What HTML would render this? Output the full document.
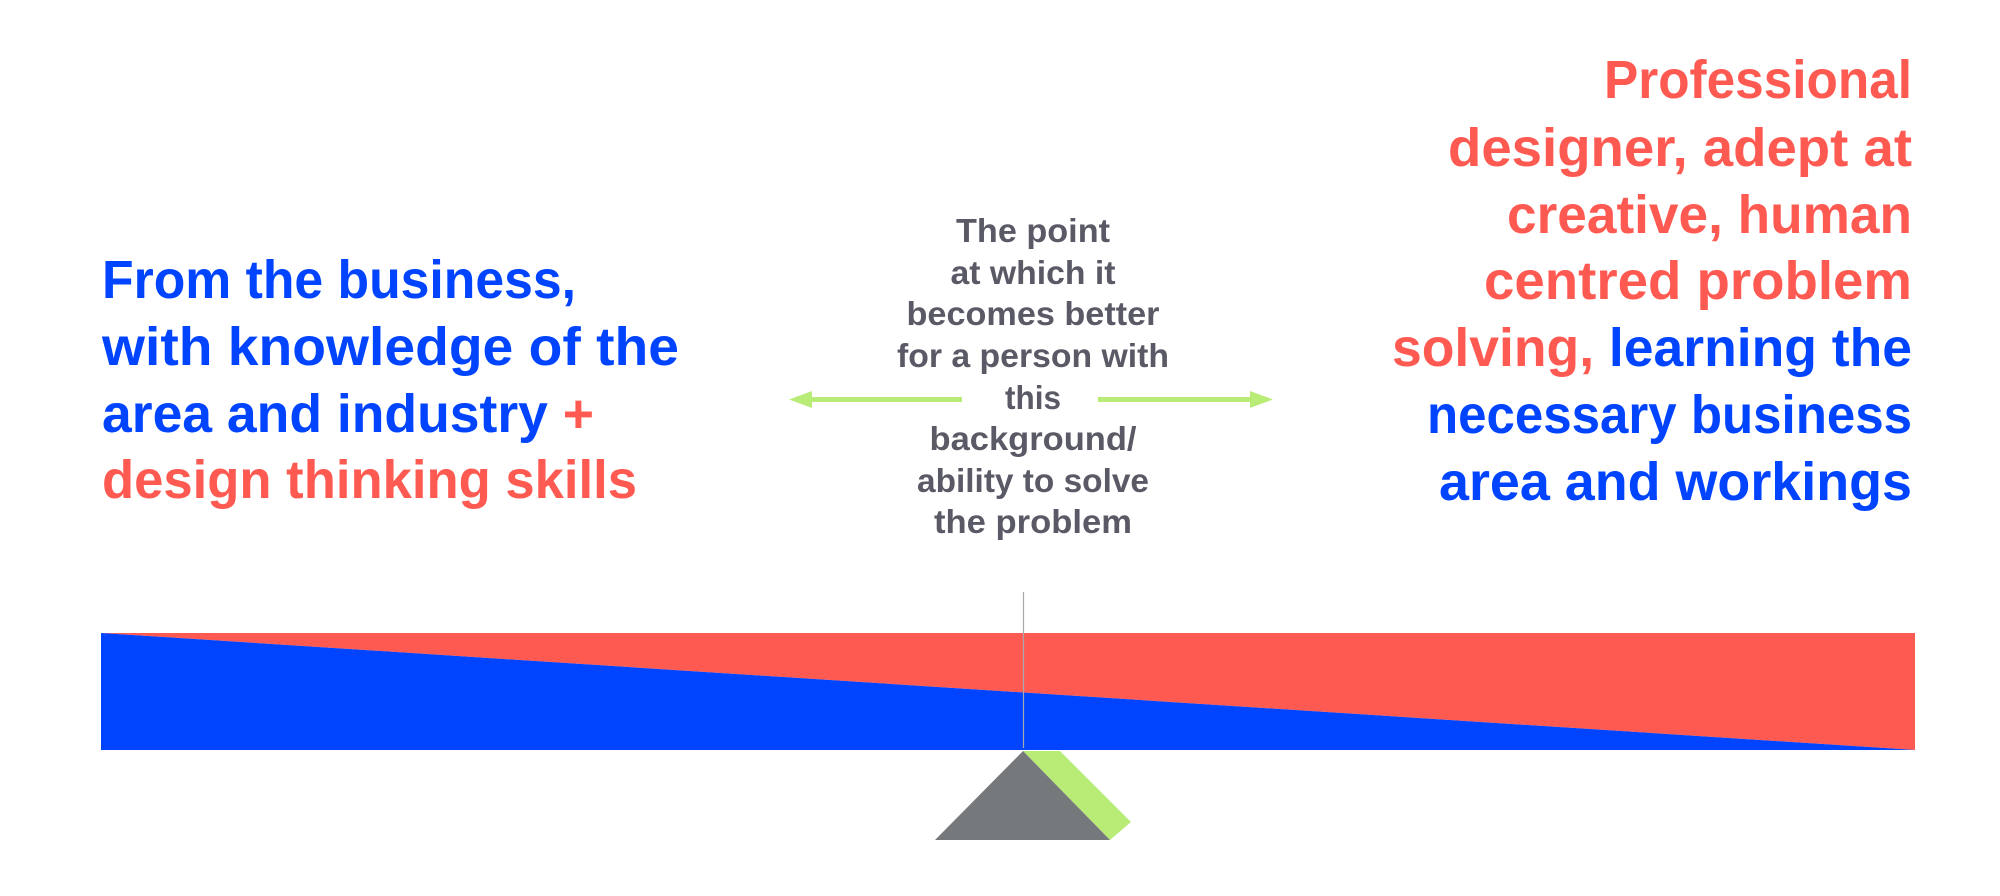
<!DOCTYPE html>
<html><head><meta charset="utf-8"><style>
html,body{margin:0;padding:0;background:#fff;}
svg{display:block;}
text{font-family:"Liberation Sans",sans-serif;font-weight:bold;}
</style></head><body>
<svg width="2000" height="896" viewBox="0 0 2000 896" xmlns="http://www.w3.org/2000/svg">
<rect width="2000" height="896" fill="#fff"/>
<g font-size="54" fill="#0044ff">
<text x="102" y="298" textLength="474" lengthAdjust="spacingAndGlyphs">From the business,</text>
<text x="102" y="365" textLength="577" lengthAdjust="spacingAndGlyphs">with knowledge of the</text>
<text x="102" y="432" textLength="492" lengthAdjust="spacingAndGlyphs">area and industry <tspan fill="#ff5a52">+</tspan></text>
<text x="102" y="498" textLength="535" lengthAdjust="spacingAndGlyphs" fill="#ff5a52">design thinking skills</text>
</g>
<g font-size="54" text-anchor="end">
<text x="1912" y="98" textLength="308" lengthAdjust="spacingAndGlyphs" fill="#ff5a52">Professional</text>
<text x="1912" y="166" textLength="464" lengthAdjust="spacingAndGlyphs" fill="#ff5a52">designer, adept at</text>
<text x="1912" y="233" textLength="405" lengthAdjust="spacingAndGlyphs" fill="#ff5a52">creative, human</text>
<text x="1912" y="299" textLength="428" lengthAdjust="spacingAndGlyphs" fill="#ff5a52">centred problem</text>
<text x="1912" y="366" textLength="520" lengthAdjust="spacingAndGlyphs" fill="#ff5a52">solving, <tspan fill="#0044ff">learning the</tspan></text>
<text x="1912" y="433" textLength="485" lengthAdjust="spacingAndGlyphs" fill="#0044ff">necessary business</text>
<text x="1912" y="500" textLength="473" lengthAdjust="spacingAndGlyphs" fill="#0044ff">area and workings</text>
</g>
<g font-size="33" fill="#5a5a66" text-anchor="middle">
<text x="1033" y="242" textLength="154" lengthAdjust="spacingAndGlyphs">The point</text>
<text x="1033" y="284" textLength="165" lengthAdjust="spacingAndGlyphs">at which it</text>
<text x="1033" y="325" textLength="253" lengthAdjust="spacingAndGlyphs">becomes better</text>
<text x="1033" y="367" textLength="272" lengthAdjust="spacingAndGlyphs">for a person with</text>
<text x="1033" y="409" textLength="56" lengthAdjust="spacingAndGlyphs">this</text>
<text x="1033" y="450" textLength="207" lengthAdjust="spacingAndGlyphs">background/</text>
<text x="1033" y="492" textLength="232" lengthAdjust="spacingAndGlyphs">ability to solve</text>
<text x="1033" y="533" textLength="198" lengthAdjust="spacingAndGlyphs">the problem</text>
</g>
<g fill="#b9ec76">
<rect x="805" y="397" width="157" height="5"/>
<polygon points="789,399.5 812,391 812,408"/>
<rect x="1098" y="397" width="155" height="5"/>
<polygon points="1273,399.5 1250,391 1250,408"/>
</g>
<polygon points="101,633 1915,633 1915,750" fill="#ff5a52"/>
<polygon points="101,633 1915,750 101,750" fill="#0044ff"/>
<line x1="1023.5" y1="592" x2="1023.5" y2="748" stroke="#a6a8ad" stroke-width="1.2"/>
<polygon points="1023,751 1060,751 1131,822 1110,840" fill="#b9ec76"/>
<polygon points="1023,751 1110,840 935,840" fill="#76797c"/>
</svg>
</body></html>
